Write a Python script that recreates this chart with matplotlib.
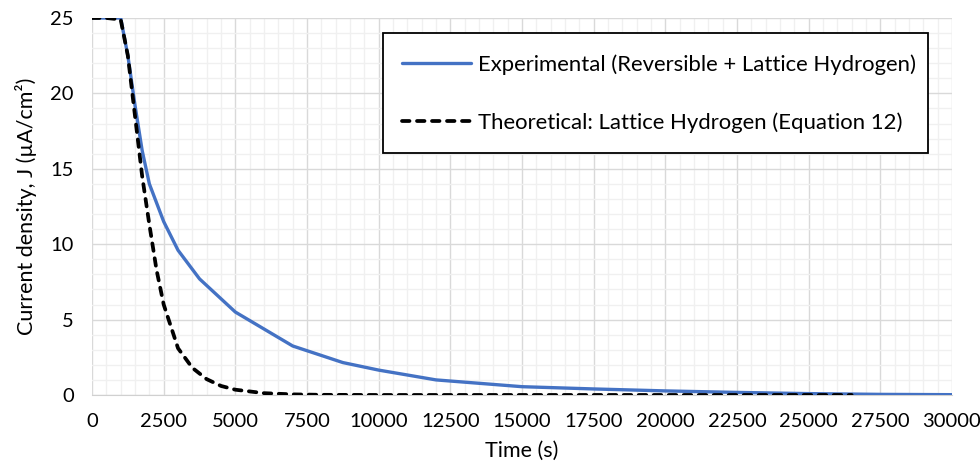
import matplotlib.pyplot as plt
from matplotlib.patches import Rectangle
from matplotlib.ticker import MultipleLocator

# measured current density (reversible + lattice hydrogen)
exp_time = [0, 1000, 1250, 1500, 1750, 2000, 2500, 3000, 3750, 5000,
            7000, 8750, 10000, 12000, 15000, 17500, 20000, 22500,
            25000, 27500, 30000]
exp_j = [25, 25, 22.5, 19.2, 16.2, 14.0, 11.5, 9.6, 7.7, 5.5,
         3.25, 2.15, 1.65, 1.0, 0.55, 0.4, 0.27, 0.17,
         0.09, 0.04, 0.02]

# theoretical lattice hydrogen curve (equation 12)
theo_time = [0, 500, 1000, 1250, 1500, 1750, 2000, 2250, 2500, 3000,
             3500, 4000, 4500, 5000, 6000, 7000, 8000, 10000, 15000,
             20000, 26500]
theo_j = [25, 25, 24.9, 22.5, 18.5, 14.5, 11.3, 8.3, 6.0, 3.1,
          1.8, 1.05, 0.6, 0.35, 0.12, 0.04, 0.01, 0, 0,
          0, 0]

exp_label = "Experimental (Reversible + Lattice Hydrogen)"
theo_label = "Theoretical: Lattice Hydrogen (Equation 12)"

plt.rcParams['font.family'] = ['Lato', 'DejaVu Sans']

fig = plt.figure(figsize=(9.8, 4.71), dpi=100)
ax = fig.add_axes([0.0939, 0.1614, 0.8775, 0.8004])

ax.plot(exp_time, exp_j, color='#4472C4', lw=2.4, label=exp_label,
        solid_joinstyle='round', solid_capstyle='round', zorder=3)
ax.plot(theo_time, theo_j, color='black', lw=2.7, dashes=(2.0, 2.0),
        dash_capstyle='round', label=theo_label, zorder=4)

ax.set_xlim(0, 30000)
ax.set_ylim(0, 25)
ax.xaxis.set_major_locator(MultipleLocator(2500))
ax.xaxis.set_minor_locator(MultipleLocator(500))
ax.yaxis.set_major_locator(MultipleLocator(5))
ax.yaxis.set_minor_locator(MultipleLocator(1))

# excel style grid, no frame
ax.grid(which='major', color='#d9d9d9', lw=1.0, zorder=0)
ax.grid(which='minor', color='#f0f0f0', lw=1.0, zorder=0)
ax.set_axisbelow(True)
for s in ['top', 'right', 'left']:
    ax.spines[s].set_visible(False)
ax.spines['bottom'].set_color('#d0d0d0')
ax.tick_params(which='both', length=0, labelsize=14.5, colors='black')
ax.tick_params(axis='x', pad=13)
ax.tick_params(axis='y', pad=13)

ax.set_xlabel("Time (s)", fontsize=15.5, labelpad=8)
ax.set_ylabel("Current density, J (µA/cm²)", fontsize=15.5, labelpad=10)

# legend box with a plain black border
box = Rectangle((0.338, 0.6427), 0.6337, 0.3167, transform=ax.transAxes,
                facecolor='white', edgecolor='black', lw=1.3, zorder=5)
ax.add_patch(box)
leg = ax.legend(loc='upper left', bbox_to_anchor=(0.337, 0.956),
                frameon=False, fontsize=15.9, handlelength=3.15,
                handletextpad=0.3, labelspacing=1.7)
leg.set_zorder(6)

fig.savefig('out.png', dpi=100)
